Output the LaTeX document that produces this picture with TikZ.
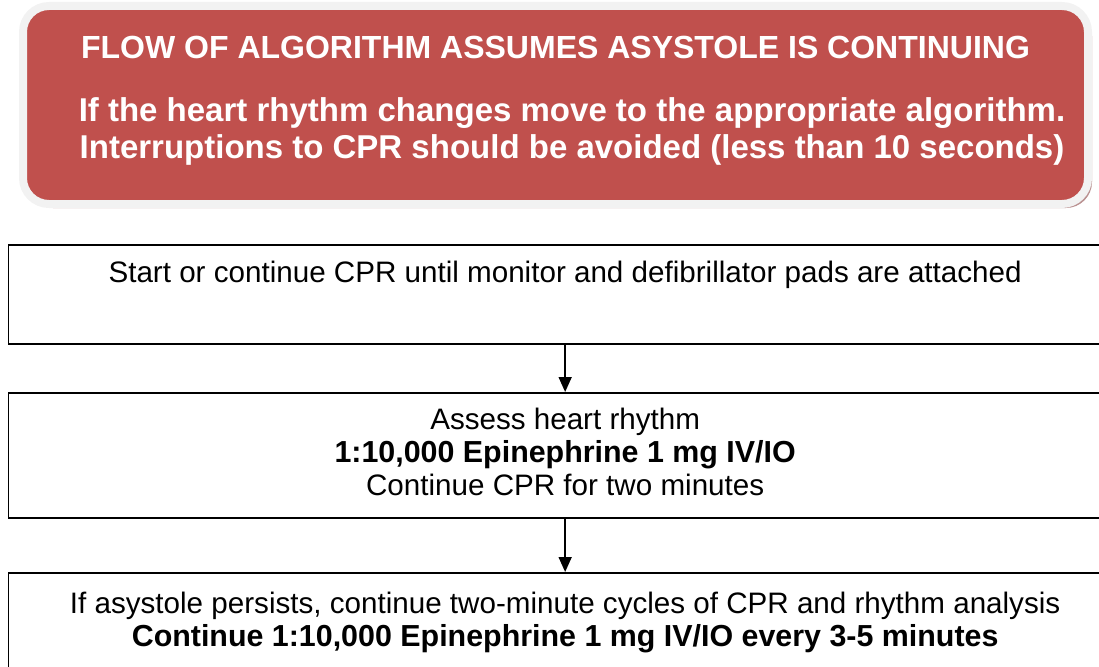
\documentclass[tikz,border=0pt]{standalone}
\usepackage{fontspec}
\setmainfont{Liberation Sans}
\usepackage{tikz}
\usetikzlibrary{arrows.meta, shadows, positioning}
\definecolor{algred}{RGB}{192, 80, 77}
\definecolor{algrim}{RGB}{242, 242, 242}
\definecolor{algshade}{RGB}{185, 144, 144}
\newcommand{\dosetext}[1]{{\bfseries\fontsize{30.4}{33}\selectfont #1}}

\tikzset{
  stepbox/.style={draw, line width=1.8pt, anchor=north west, inner xsep=0pt,
    inner ysep=0pt, minimum width=1113.5pt,
    font=\fontsize{29.6}{33}\selectfont},
  flow/.style={line width=1.6pt, -{Triangle[width=13pt,length=15pt]}}
}

\begin{document}
\begin{tikzpicture}[x=1pt, y=-1pt]
\useasboundingbox (0,0) rectangle (1099,666);
\clip (0,0) rectangle (1099,666);

% warning banner
\node[fill=algred, draw=algrim, line width=8pt, rounded corners=26pt,
  drop shadow={shadow xshift=4pt, shadow yshift=-4pt, fill=algshade, opacity=1},
  anchor=north west, outer sep=0pt, minimum width=1065pt, inner xsep=0pt, inner ysep=0pt,
  text height=52.5pt, text depth=145.5pt, text=white,
  font=\bfseries\fontsize{33}{37}\selectfont] (banner) at (23,6)
  {\begin{tabular}[t]{@{}c@{}}{\fontsize{32}{37}\selectfont FLOW OF ALGORITHM ASSUMES ASYSTOLE IS CONTINUING}\\[26.5pt]
   \hspace*{33pt}If the heart rhythm changes move to the appropriate algorithm.\\
   \hspace*{33pt}Interruptions to CPR should be avoided (less than 10 seconds)\end{tabular}};

% steps
\node[stepbox, text height=38pt, text depth=61pt] (start) at (7.5,244)
  {Start or continue CPR until monitor and defibrillator pads are attached};

\node[stepbox, text height=37pt, text depth=88pt] (assess) at (7.5,392)
  {\begin{tabular}[t]{@{}c@{}}Assess heart rhythm\\
   \dosetext{1:10,000 Epinephrine 1 mg IV/IO}\\
   Continue CPR for two minutes\end{tabular}};

\node[stepbox, text height=40.5pt, text depth=100pt] (persist) at (7.5,572)
  {\begin{tabular}[t]{@{}c@{}}If asystole persists, continue two-minute cycles of CPR and rhythm analysis\\
   \dosetext{Continue 1:10,000 Epinephrine 1 mg IV/IO every 3-5 minutes}\end{tabular}};

\draw[flow] (start.south) -- (assess.north);
\draw[flow] (assess.south) -- (persist.north);
\end{tikzpicture}
\end{document}
